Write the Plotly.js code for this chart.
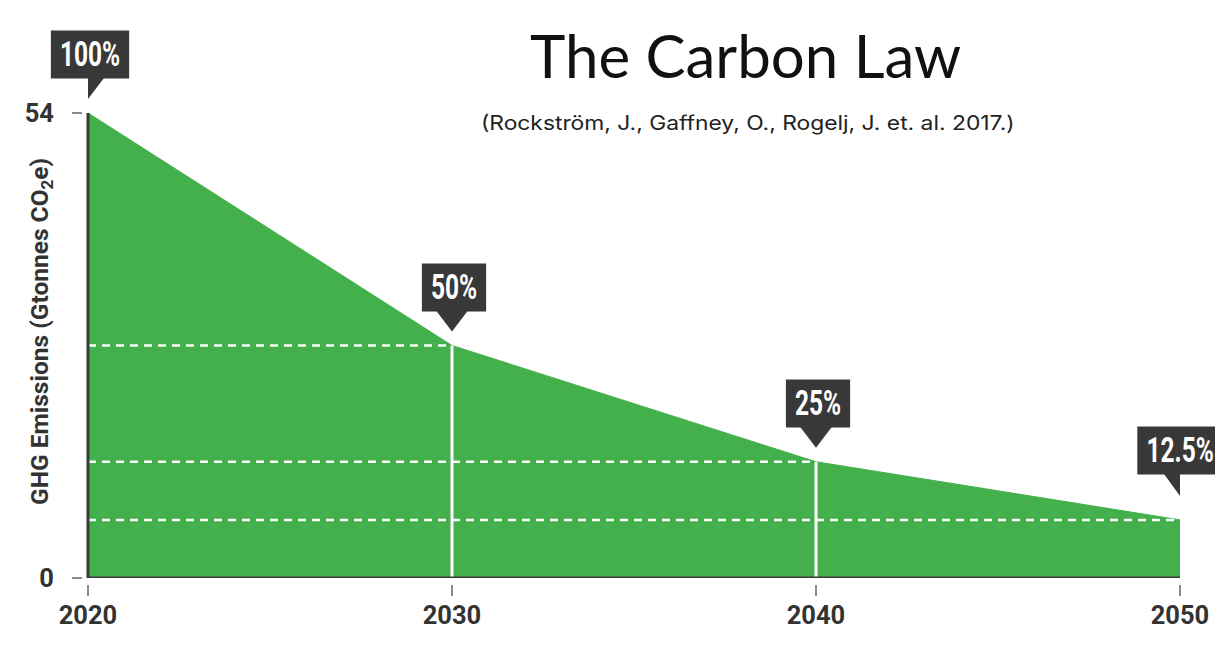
<!DOCTYPE html>
<html>
<head>
<meta charset="utf-8">
<script src="https://cdn.plot.ly/plotly-3.0.1.min.js"></script>
<style>
  html, body { margin: 0; padding: 0; background: #ffffff; }
  #chart { width: 1215px; height: 645px; }
</style>
</head>
<body>
<div id="chart"></div>
<script>
// ---- data ----
const years = [2020, 2030, 2040, 2050];
const emissions = [54, 27, 13.5, 6.75];          // Gt CO2e
const shareLabels = ['100%', '50%', '25%', '12.5%'];
const yTickVals = [0, 54];
const yTickText = ['0', '54'];
const xTickVals = [2020, 2030, 2040, 2050];
const xTickText = ['2020', '2030', '2040', '2050'];
const chartTitle = 'The Carbon Law';
const chartSubtitle = '(Rockström, J., Gaffney, O., Rogelj, J. et. al. 2017.)';
const yAxisTitle = 'GHG Emissions (Gtonnes CO<sub>2</sub>e)';

// ---- layout geometry (pixels) ----
const W = 1215, H = 645;
const M = { l: 82, r: 35, t: 20, b: 61 };
const AXIS_GAP = 6;              // gap between axis line and the tick marks
const Y_TOP_PX = 113;            // pixel row of the top y tick
const plotH = H - M.t - M.b;
const plotW = W - M.l - M.r;
const zeroPx = H - M.b - AXIS_GAP;
const yMax = Math.max(...yTickVals);
const yRangeTop = yMax * (zeroPx - M.t) / (zeroPx - Y_TOP_PX);
const paperY = py => (H - M.b - py) / plotH;
const paperX = px => (px - M.l) / plotW;

// ---- styles ----
const GREEN = '#43b04b';
const DARK = '#383838';
const AXIS = '#3a3a3a';
const tickFont = { family: 'Roboto, "Liberation Sans", sans-serif', size: 25.5, color: '#333333', weight: 700 };
const calloutFont = { family: 'Roboto, "Liberation Sans", sans-serif', size: 35, color: '#ffffff', weight: 700 };
const CALLOUT_SCALE = 0.70;
const CALLOUT_PADX = 9;

const traces = [];
traces.push({
  type: 'scatter', mode: 'lines',
  x: years, y: emissions,
  fill: 'tozeroy', fillcolor: GREEN,
  line: { color: GREEN, width: 1 },
  hoverinfo: 'skip', showlegend: false
});
for (let i = 1; i < years.length; i++) {
  traces.push({
    type: 'scatter', mode: 'lines',
    x: [years[0], years[i]], y: [emissions[i], emissions[i]],
    line: { color: '#ffffff', width: 2.5, dash: '8px,6px' },
    hoverinfo: 'skip', showlegend: false
  });
  if (i < years.length - 1) {
    traces.push({
      type: 'scatter', mode: 'lines',
      x: [years[i], years[i]], y: [0, emissions[i]],
      line: { color: '#ffffff', width: 3 },
      hoverinfo: 'skip', showlegend: false
    });
  }
}

const shapes = [
  { type: 'line', xref: 'x domain', yref: 'y', x0: 0, x1: 0, y0: 0, y1: yMax, line: { color: AXIS, width: 3 } },
  { type: 'line', xref: 'x domain', yref: 'y', x0: 0, x1: 1, y0: 0, y1: 0, line: { color: AXIS, width: 3 } }
];
const annotations = [];

years.forEach((yr, i) => {
  const last = (i === years.length - 1);
  const tip = last ? 24 : 14;
  const boxBottom = last ? 45 : 34;
  shapes.push({
    type: 'path', xref: 'x', yref: 'y',
    xsizemode: 'pixel', ysizemode: 'pixel',
    xanchor: yr, yanchor: emissions[i],
    path: `M-16,${boxBottom + 1} L16,${boxBottom + 1} L0,${tip} Z`,
    fillcolor: DARK, line: { width: 0 }
  });
  annotations.push({
    x: yr, y: emissions[i], xref: 'x', yref: 'y',
    text: shareLabels[i], showarrow: false,
    xanchor: 'center', yanchor: 'bottom',
    yshift: boxBottom, xshift: last ? 0 : 2,
    bgcolor: DARK, borderpad: 8, height: 31,
    font: calloutFont
  });
});

annotations.push({
  xref: 'paper', yref: 'paper', x: paperX(745), y: paperY(55),
  text: chartTitle, showarrow: false, xanchor: 'center', yanchor: 'middle',
  font: { family: 'Lato, "Open Sans", sans-serif', size: 60, color: '#111111' }
});
const SUB_IDX = annotations.length;
annotations.push({
  xref: 'paper', yref: 'paper', x: paperX(748), y: paperY(123),
  text: chartSubtitle, showarrow: false, xanchor: 'center', yanchor: 'middle',
  font: { family: 'Inter, "Open Sans", sans-serif', size: 20, color: '#222222' }
});
annotations.push({
  xref: 'paper', yref: 'paper', x: paperX(41), y: paperY(332),
  text: yAxisTitle, showarrow: false, textangle: -90,
  xanchor: 'center', yanchor: 'middle',
  font: { family: 'Roboto, "Liberation Sans", sans-serif', size: 24.5, color: '#333333', weight: 700 }
});

const layout = {
  width: W, height: H,
  margin: { l: M.l, r: M.r, t: M.t, b: M.b, pad: 0 },
  paper_bgcolor: '#ffffff', plot_bgcolor: '#ffffff',
  showlegend: false,
  xaxis: {
    range: [years[0], years[years.length - 1]], domain: [AXIS_GAP / plotW, 1],
    anchor: 'free', position: 0,
    showgrid: false, zeroline: false, showline: false,
    tickmode: 'array', tickvals: xTickVals, ticktext: xTickText,
    ticks: 'outside', ticklen: 11, tickwidth: 2, tickcolor: '#8a8a8a',
    ticklabelstandoff: -3,
    tickfont: tickFont, fixedrange: true
  },
  yaxis: {
    range: [0, yRangeTop], domain: [AXIS_GAP / plotH, 1],
    anchor: 'free', position: 0,
    showgrid: false, zeroline: false, showline: false,
    tickmode: 'array', tickvals: yTickVals, ticktext: yTickText,
    ticks: 'outside', ticklen: 10, tickwidth: 2, tickcolor: '#8a8a8a',
    ticklabelstandoff: 13,
    tickfont: tickFont, fixedrange: true
  },
  shapes: shapes,
  annotations: annotations
};

function scaleText(gd, idx, sx, padX) {
  const g = gd.querySelector(`.annotation[data-index="${idx}"]`);
  if (!g) return;
  const text = g.querySelector('text.annotation-text');
  if (!text) return;
  const bb = text.getBBox();
  const cx = bb.x + bb.width / 2;
  text.setAttribute('transform', `translate(${cx},0) scale(${sx},1) translate(${-cx},0)`);
  const rect = g.querySelector('rect.bg');
  if (rect && padX !== undefined) {
    const rx = parseFloat(rect.getAttribute('x'));
    const rw = parseFloat(rect.getAttribute('width'));
    const rcx = rx + rw / 2;
    const nw = bb.width * sx + 2 * padX;
    rect.setAttribute('x', rcx - nw / 2);
    rect.setAttribute('width', nw);
  }
}

Plotly.newPlot('chart', traces, layout, { staticPlot: true, displayModeBar: false }).then(gd => {
  for (let i = 0; i < shareLabels.length; i++) scaleText(gd, i, CALLOUT_SCALE, CALLOUT_PADX);
  const sg = gd.querySelector(`.annotation[data-index="${SUB_IDX}"] text.annotation-text`);
  if (sg) {
    const w = sg.getBBox().width;
    if (w > 0) scaleText(gd, SUB_IDX, 534 / w);
  }
});
</script>
</body>
</html>
